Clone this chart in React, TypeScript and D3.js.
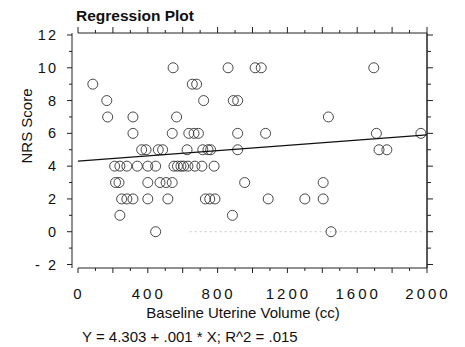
import {useEffect, useRef} from 'react';
import * as d3 from 'd3';

// baseline uterine volume (cc) and NRS score, read row by row
const volume = [
  545, 860, 1015, 1050, 1695,
  85, 655, 680,
  165, 720, 890, 915,
  170, 315, 565, 1435,
  315, 540, 635, 665, 690, 915, 1075, 1710, 1965,
  365, 390, 460, 485, 625, 715, 745, 760, 915, 1725, 1770,
  210, 240, 280, 340, 400, 445, 550, 570, 590, 605, 630, 670, 710, 780,
  215, 235, 400, 470, 505, 540, 955, 1405,
  250, 280, 315, 400, 515, 730, 755, 785, 1090, 1300, 1405,
  240, 885,
  445, 1450,
];
const nrs = [
  10, 10, 10, 10, 10,
  9, 9, 9,
  8, 8, 8, 8,
  7, 7, 7, 7,
  6, 6, 6, 6, 6, 6, 6, 6, 6,
  5, 5, 5, 5, 5, 5, 5, 5, 5, 5, 5,
  4, 4, 4, 4, 4, 4, 4, 4, 4, 4, 4, 4, 4, 4,
  3, 3, 3, 3, 3, 3, 3, 3,
  2, 2, 2, 2, 2, 2, 2, 2, 2, 2, 2,
  1, 1,
  0, 0,
];
const xTicks = [0, 400, 800, 1200, 1600, 2000];
const yTicks = [-2, 0, 2, 4, 6, 8, 10, 12];
const intercept = 4.303;
const slope = 0.0008;

const W = 465;
const H = 347;
const font = '"Liberation Sans", Arial, sans-serif';

const App = () => {
  const ref = useRef<SVGSVGElement>(null);

  useEffect(() => {
    document.body.style.margin = '0';
    const svg = d3.select(ref.current);
    svg.selectAll('*').remove();

    const x = d3.scaleLinear().domain([0, 2000]).range([78, 427]);
    const y = d3.scaleLinear().domain([-2, 12]).range([264.5, 35]);
    const top = 33;
    const bottom = 268;
    const left = 72;
    const right = 427;

    const g = svg.append('g').attr('stroke', '#222').attr('fill', 'none');

    // frame
    g.append('line').attr('x1', left).attr('x2', left).attr('y1', top).attr('y2', bottom);
    g.append('line').attr('x1', right).attr('x2', right).attr('y1', top).attr('y2', bottom).attr('stroke-width', 1.5);
    g.append('line').attr('x1', x(0)).attr('x2', right).attr('y1', top).attr('y2', top);
    g.append('line').attr('x1', x(0)).attr('x2', right).attr('y1', bottom).attr('y2', bottom);

    // x ticks every 100, longer every 200
    const xt = d3.range(0, 2001, 100);
    g.selectAll('line.xt-top')
      .data(xt)
      .enter()
      .append('line')
      .attr('x1', (d) => x(d))
      .attr('x2', (d) => x(d))
      .attr('y1', top)
      .attr('y2', (d) => top - (d % 200 === 0 ? 6 : 3));
    g.selectAll('line.xt-bot')
      .data(xt)
      .enter()
      .append('line')
      .attr('x1', (d) => x(d))
      .attr('x2', (d) => x(d))
      .attr('y1', bottom)
      .attr('y2', (d) => bottom + (d % 200 === 0 ? 5 : 3));

    // y ticks every 1, longer on even values
    const yt = d3.range(-2, 13, 1);
    g.selectAll('line.yt-left')
      .data(yt)
      .enter()
      .append('line')
      .attr('x1', left)
      .attr('x2', (d) => left - (d % 2 === 0 ? 5 : 3))
      .attr('y1', (d) => y(d))
      .attr('y2', (d) => y(d));
    g.selectAll('line.yt-right')
      .data(yt)
      .enter()
      .append('line')
      .attr('x1', right)
      .attr('x2', (d) => right + (d % 2 === 0 ? 6 : 4))
      .attr('y1', (d) => y(d))
      .attr('y2', (d) => y(d));

    // faint dotted line at zero (scan artefact)
    svg.append('line')
      .attr('x1', x(640))
      .attr('x2', x(1980))
      .attr('y1', y(0))
      .attr('y2', y(0))
      .attr('stroke', '#bbb')
      .attr('stroke-width', 0.8)
      .attr('stroke-dasharray', '2 3');

    // tick labels
    svg.selectAll('text.xl')
      .data(xTicks)
      .enter()
      .append('text')
      .attr('x', (d) => x(d) + 1)
      .attr('y', 299)
      .attr('text-anchor', 'middle')
      .attr('font-family', font)
      .attr('font-size', 15)
      .attr('letter-spacing', 3)
      .attr('fill', '#111')
      .text((d) => d);

    svg.selectAll('text.yl')
      .data(yTicks)
      .enter()
      .append('text')
      .attr('x', 58)
      .attr('y', (d) => y(d) + 5)
      .attr('text-anchor', 'end')
      .attr('font-family', font)
      .attr('font-size', 14.5)
      .attr('letter-spacing', 2)
      .attr('fill', '#111')
      .text((d) => (d < 0 ? '- ' + Math.abs(d) : d));

    // points
    svg.selectAll('circle')
      .data(volume.map((v, i) => [v, nrs[i]]))
      .enter()
      .append('circle')
      .attr('cx', (d) => x(d[0]))
      .attr('cy', (d) => y(d[1]))
      .attr('r', 5)
      .attr('fill', 'none')
      .attr('stroke', '#333')
      .attr('stroke-width', 0.9);

    // regression line
    const line = d3
      .line<number>()
      .x((d) => x(d))
      .y((d) => y(intercept + slope * d));
    svg.append('path')
      .datum([0, 2000])
      .attr('d', line)
      .attr('fill', 'none')
      .attr('stroke', '#111')
      .attr('stroke-width', 1.2);

    // titles
    svg.append('text')
      .attr('x', 76)
      .attr('y', 21)
      .attr('font-family', font)
      .attr('font-size', 15.5)
      .attr('font-weight', 'bold')
      .attr('fill', '#111')
      .text('Regression Plot');

    svg.append('text')
      .attr('x', 243)
      .attr('y', 318)
      .attr('text-anchor', 'middle')
      .attr('font-family', font)
      .attr('font-size', 15)
      .attr('fill', '#111')
      .text('Baseline Uterine Volume (cc)');

    svg.append('text')
      .attr('transform', 'translate(32,126) rotate(-90)')
      .attr('text-anchor', 'middle')
      .attr('font-family', font)
      .attr('font-size', 15)
      .attr('fill', '#111')
      .text('NRS Score');

    svg.append('text')
      .attr('x', 82)
      .attr('y', 342)
      .attr('font-family', font)
      .attr('font-size', 15)
      .attr('fill', '#111')
      .text('Y = 4.303 + .001 * X; R^2 = .015');
  }, []);

  return <svg ref={ref} width={W} height={H} style={{display: 'block', background: '#fff'}} />;
};

export default App;
